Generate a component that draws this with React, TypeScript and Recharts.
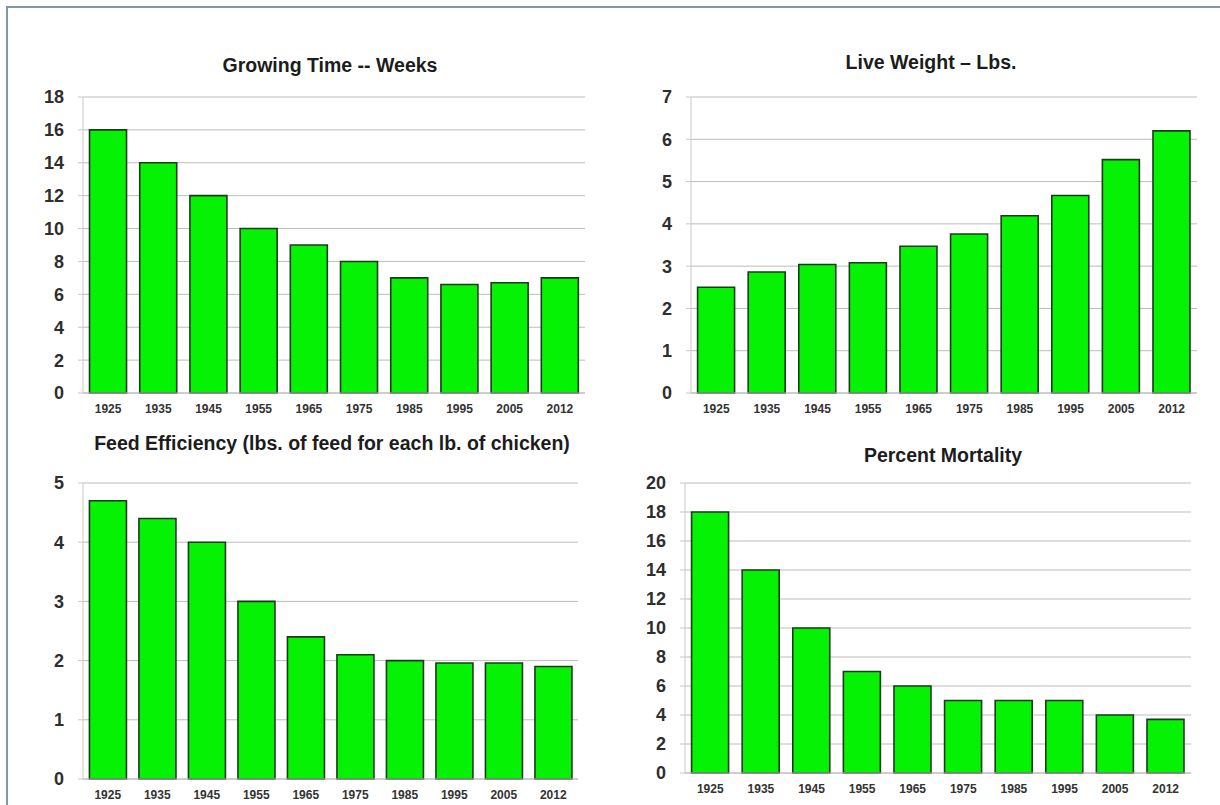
import React from 'react';
import { BarChart, Bar, XAxis, YAxis, CartesianGrid } from 'recharts';

const years = ['1925', '1935', '1945', '1955', '1965', '1975', '1985', '1995', '2005', '2012'];

const growingWeeks = [16, 14, 12, 10, 9, 8, 7, 6.6, 6.7, 7];
const liveWeightLbs = [2.5, 2.86, 3.04, 3.08, 3.47, 3.76, 4.19, 4.67, 5.52, 6.2];
const feedPerLb = [4.7, 4.4, 4.0, 3.0, 2.4, 2.1, 2.0, 1.96, 1.96, 1.9];
const mortalityPct = [18, 14, 10, 7, 6, 5, 5, 5, 4, 3.7];

const growingTicks = [0, 2, 4, 6, 8, 10, 12, 14, 16, 18];
const weightTicks = [0, 1, 2, 3, 4, 5, 6, 7];
const feedTicks = [0, 1, 2, 3, 4, 5];
const mortalityTicks = [0, 2, 4, 6, 8, 10, 12, 14, 16, 18, 20];

const FONT = '"Liberation Sans", Arial, sans-serif';

interface PanelProps {
  title: string;
  titleX: number;
  titleY: number;
  values: number[];
  ticks: number[];
  plotLeft: number;
  plotTop: number;
  plotWidth: number;
  plotHeight: number;
}

const YW = 60;
const MT = 10;
const MR = 10;
const MB = 5;
const XH = 30;

function Panel({ title, titleX, titleY, values, ticks, plotLeft, plotTop, plotWidth, plotHeight }: PanelProps) {
  const data = years.map((year, i) => ({ year, value: values[i] }));
  const max = ticks[ticks.length - 1];
  return (
    <>
      <div
        style={{
          position: 'absolute',
          left: titleX - 300,
          top: titleY - 12,
          width: 600,
          textAlign: 'center',
          fontFamily: FONT,
          fontWeight: 'bold',
          fontSize: 19.5,
          lineHeight: '24px',
          color: '#1c1c1c',
          whiteSpace: 'nowrap',
        }}
      >
        {title}
      </div>
      <div style={{ position: 'absolute', left: plotLeft - YW, top: plotTop - MT }}>
        <BarChart
          width={YW + plotWidth + MR}
          height={MT + plotHeight + XH + MB}
          data={data}
          margin={{ top: MT, right: MR, bottom: MB, left: 0 }}
          barCategoryGap="13%"
        >
          <CartesianGrid vertical={false} stroke="#bdbdbd" />
          <XAxis
            dataKey="year"
            interval={0}
            height={XH}
            axisLine={{ stroke: '#bdbdbd' }}
            tickLine={false}
            tickMargin={5}
            tick={{ fill: '#333', fontSize: 12, fontWeight: 'bold', fontFamily: FONT }}
          />
          <YAxis
            width={YW}
            domain={[0, max]}
            ticks={ticks}
            interval={0}
            axisLine={{ stroke: '#c8c8c8' }}
            tickLine={{ stroke: '#c8c8c8' }}
            tickSize={5}
            tickMargin={14}
            tick={{ fill: '#2e2e2e', fontSize: 18, fontWeight: 'bold', fontFamily: FONT }}
          />
          <Bar dataKey="value" fill="#05f205" stroke="#1d3a1d" strokeWidth={1.6} isAnimationActive={false} />
        </BarChart>
      </div>
    </>
  );
}

export default function App() {
  return (
    <div style={{ position: 'absolute', left: 0, top: 0, width: 1220, height: 805, background: '#fff', overflow: 'hidden' }}>
      <div
        style={{
          position: 'absolute',
          left: 6,
          top: 6,
          width: 1220,
          height: 805,
          borderTop: '2px solid #8196ab',
          borderLeft: '2px solid #8196ab',
        }}
      />
      <Panel
        title="Growing Time -- Weeks"
        titleX={330}
        titleY={65}
        values={growingWeeks}
        ticks={growingTicks}
        plotLeft={83}
        plotTop={97}
        plotWidth={502}
        plotHeight={296}
      />
      <Panel
        title="Live Weight – Lbs."
        titleX={931}
        titleY={62}
        values={liveWeightLbs}
        ticks={weightTicks}
        plotLeft={691}
        plotTop={97}
        plotWidth={506}
        plotHeight={296}
      />
      <Panel
        title="Feed Efficiency (lbs. of feed for each lb. of chicken)"
        titleX={332}
        titleY={443}
        values={feedPerLb}
        ticks={feedTicks}
        plotLeft={83}
        plotTop={483}
        plotWidth={495}
        plotHeight={296}
      />
      <Panel
        title="Percent Mortality"
        titleX={943}
        titleY={455}
        values={mortalityPct}
        ticks={mortalityTicks}
        plotLeft={685}
        plotTop={483}
        plotWidth={506}
        plotHeight={290}
      />
    </div>
  );
}
